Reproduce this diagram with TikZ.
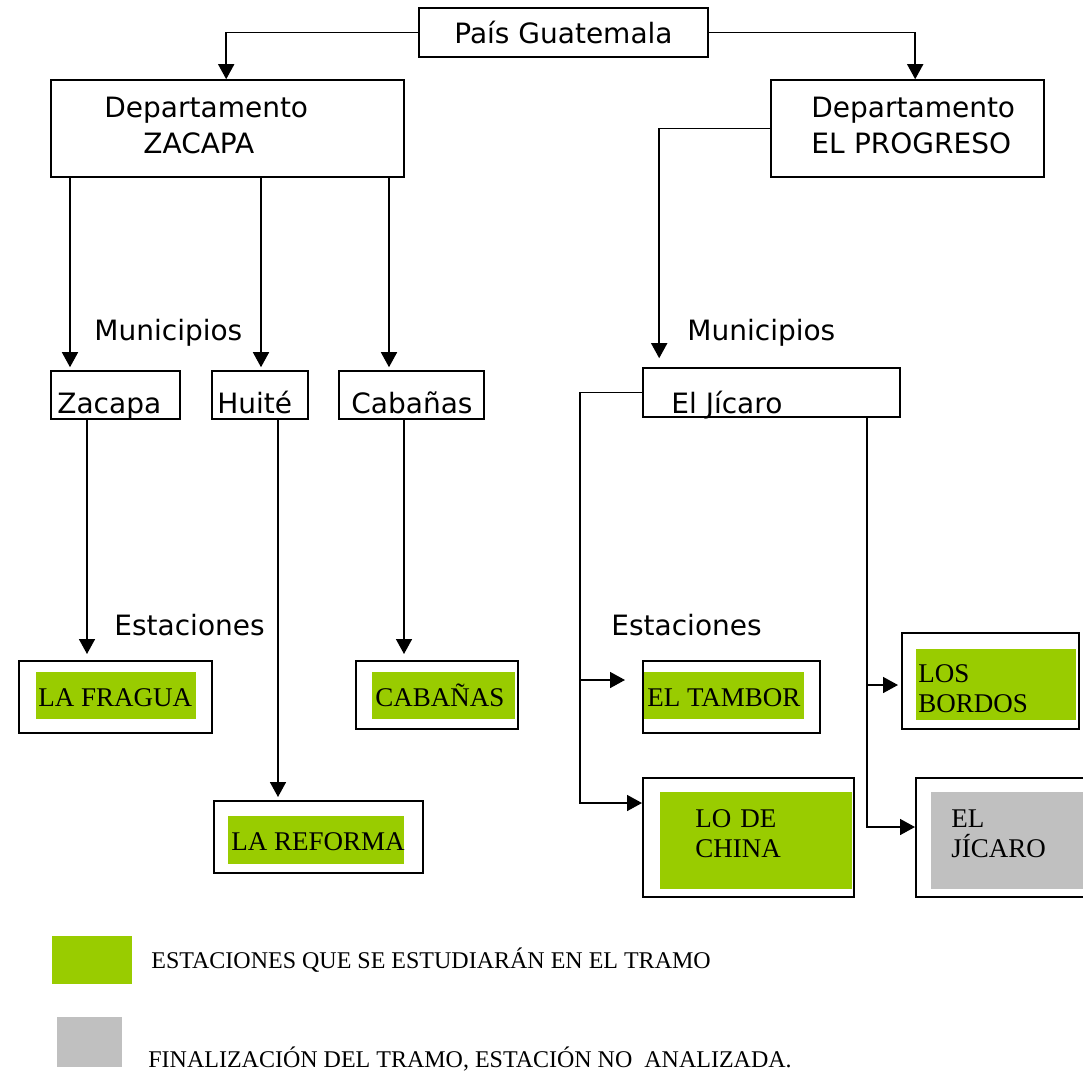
\documentclass[tikz,border=0pt]{standalone}
\usepackage{fontspec}
\setmainfont{Liberation Serif}
\setsansfont{DejaVu Sans}
\usepackage{tikz}
\usetikzlibrary{arrows.meta}
\definecolor{stagreen}{RGB}{153,204,0}
\definecolor{stagray}{RGB}{192,192,192}

\begin{document}
\begin{tikzpicture}[x=0.5pt, y=-0.5pt,
  box/.style={draw, line width=0.8pt, inner sep=0pt},
  stabox/.style={draw, line width=1pt, inner sep=0pt},
  okfill/.style={fill=stagreen, inner sep=0pt},
  nofill/.style={fill=stagray, inner sep=0pt},
  sanstxt/.style={font=\sffamily\fontsize{14}{18}\selectfont, inner sep=0pt, anchor=base west},
  statxt/.style={font=\fontsize{13.5}{15}\selectfont, inner sep=0pt, anchor=base west},
  legtxt/.style={font=\fontsize{12}{14}\selectfont, inner sep=0pt, anchor=base west},
  arr/.style={-{Triangle[length=7.5pt,width=8pt]}, line width=0.8pt}]
\useasboundingbox (0,0) rectangle (1083,1072);
\clip (0,0) rectangle (1083,1072);

% Pais
\node[box, minimum width=144.5pt, minimum height=24.5pt,
      font=\sffamily\fontsize{14}{18}\selectfont]
      (pais) at (563.5,32.5) {País Guatemala};

% Departamentos
\node[box, minimum width=176.5pt, minimum height=48.5pt] (dzac) at (227.5,128.5) {};
\node[sanstxt, text width=110pt, align=left] (dzactxt) at (104,117)
      {Departamento\\\hspace*{19.5pt}ZACAPA};
\node[box, minimum width=136.5pt, minimum height=48.5pt] (dpro) at (907.5,128.5) {};
\node[sanstxt, text width=110pt, align=left] (dprotxt) at (811,117)
      {Departamento\\EL PROGRESO};

% Municipios
\node[sanstxt] (munzac) at (94,340) {Municipios};
\node[sanstxt] (munpro) at (687,340) {Municipios};
\node[box, minimum width=64.5pt, minimum height=24pt] (mzac) at (115.5,395) {};
\node[sanstxt] (mzactxt) at (57,413) {Zacapa};
\node[box, minimum width=48pt, minimum height=24pt] (mhui) at (260,395) {};
\node[sanstxt] (mhuitxt) at (217,413) {Huité};
\node[box, minimum width=72.5pt, minimum height=24pt] (mcab) at (411.5,395) {};
\node[sanstxt] (mcabtxt) at (351,413) {Cabañas};
\node[box, minimum width=128.5pt, minimum height=24.5pt] (ejic) at (771.5,392.5) {};
\node[sanstxt] (ejictxt) at (671,413) {El Jícaro};

% Estaciones
\node[sanstxt] (estzac) at (114,635) {Estaciones};
\node[sanstxt] (estpro) at (611,635) {Estaciones};
\node[stabox, minimum width=96.5pt, minimum height=36pt] (sfra) at (115.5,697) {};
\node[okfill, minimum width=80pt, minimum height=23.5pt] (sfrafill) at (116,695.5) {};
\node[statxt] (sfratxt) at (38,706) {LA FRAGUA};
\node[stabox, minimum width=81pt, minimum height=34pt] (scab) at (437,695) {};
\node[okfill, minimum width=71.5pt, minimum height=23.5pt] (scabfill) at (443.5,695.5) {};
\node[statxt] (scabtxt) at (375,706) {CABAÑAS};
\node[stabox, minimum width=104.5pt, minimum height=36pt] (sref) at (318.5,837) {};
\node[okfill, minimum width=88pt, minimum height=24pt] (sreffill) at (316,840) {};
\node[statxt] (sreftxt) at (231,850) {LA REFORMA};
\node[stabox, minimum width=88.5pt, minimum height=36pt] (stam) at (731.5,697) {};
\node[okfill, minimum width=80pt, minimum height=23.5pt] (stamfill) at (724,695.5) {};
\node[statxt] (stamtxt) at (647,706) {EL TAMBOR};
\node[stabox, minimum width=105.5pt, minimum height=59.5pt] (schi) at (748.5,837.5) {};
\node[okfill, minimum width=96pt, minimum height=48.5pt] (schifill) at (756,840.5) {};
\node[statxt, text width=60pt, align=left] (schitxt) at (695,827) {LO DE\\CHINA};
\node[stabox, minimum width=88.5pt, minimum height=48pt] (sbor) at (990.5,681) {};
\node[okfill, minimum width=80pt, minimum height=35.5pt] (sborfill) at (996,684.5) {};
\node[statxt, text width=60pt, align=left] (sbortxt) at (918,682) {LOS\\BORDOS};
\node[stabox, minimum width=92pt, minimum height=59.5pt] (sjic) at (1008,837.5) {};
\node[nofill, minimum width=84.5pt, minimum height=48.5pt] (sjicfill) at (1015.5,840.5) {};
\node[statxt, text width=60pt, align=left] (sjictxt) at (951,827) {EL\\JÍCARO};

% Conectores
\draw[arr] (pais.west) -| ([xshift=88pt]dzac.north west);
\draw[arr] (pais.east) -| ([xshift=72.5pt]dpro.north west);
\draw[arr, shorten >=4.5pt] (dpro.west) -| ([xshift=8.5pt]ejic.north west);
\draw[arr, shorten >=1.5pt] (dzac.south -| 70,0) -- (mzac.north -| 70,0);
\draw[arr, shorten >=1.5pt] (dzac.south -| 261,0) -- (mhui.north -| 261,0);
\draw[arr, shorten >=1.5pt] (dzac.south -| 389,0) -- (mcab.north -| 389,0);
\draw[arr, shorten >=3pt] (mzac.south -| 87,0) -- (sfra.north -| 87,0);
\draw[arr, shorten >=1.5pt] (mhui.south -| 278,0) -- (sref.north -| 278,0);
\draw[arr, shorten >=3pt] (mcab.south -| 404,0) -- (scab.north -| 404,0);
\coordinate (ltrunk) at (580,680);
\coordinate (rtrunk) at (867,685);
\draw[arr] (ejic.west) -| (ltrunk) |- (schi.west |- 0,803);
\draw[arr, shorten >=8.5pt] (ltrunk) -- (stam.west |- ltrunk);
\draw[arr] (ejic.south -| rtrunk) -- (rtrunk) |- (sjic.west |- 0,827);
\draw[arr, shorten >=1.5pt] (rtrunk) -- (sbor.west |- rtrunk);

% Leyenda
\node[okfill, minimum width=40pt, minimum height=24pt] (legok) at (92,960) {};
\node[legtxt] (legoktxt) at (151,968) {ESTACIONES QUE SE ESTUDIARÁN EN EL TRAMO};
\node[nofill, minimum width=32.5pt, minimum height=25pt] (legno) at (89.5,1042) {};
\node[legtxt] (legnotxt) at (148,1067) {FINALIZACIÓN DEL TRAMO, ESTACIÓN NO\ \ ANALIZADA.};
\end{tikzpicture}
\end{document}
